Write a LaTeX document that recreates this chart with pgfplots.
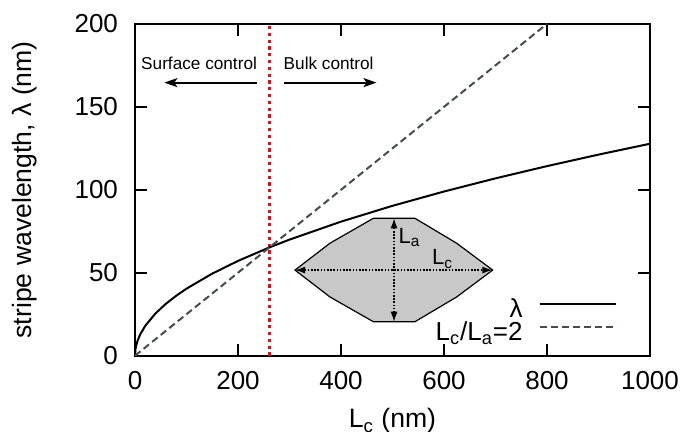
\documentclass[border=0pt]{standalone}
\usepackage{fontspec}
\setmainfont{Liberation Sans}
\usepackage{pgfplots}
\pgfplotsset{compat=1.18}
\usetikzlibrary{arrows.meta}

\definecolor{dotred}{RGB}{210,20,30}
\definecolor{dashgray}{RGB}{70,75,75}
\definecolor{shapegray}{RGB}{200,200,200}

\begin{document}
\begin{tikzpicture}
\begin{axis}[
  scale only axis,
  width=257.5pt, height=165.9pt,
  xmin=0, xmax=1000, ymin=0, ymax=200,
  xtick={0,200,...,1000},
  ytick={0,50,...,200},
  tick align=inside,
  major tick length=6pt,
  axis line style={line width=0.9pt},
  every tick/.style={black, line width=0.9pt},
  /pgf/number format/assume math mode=true,
  /pgf/number format/1000 sep={},
  tick label style={font=\fontsize{13}{15}\selectfont},
  yticklabel style={xshift=-5pt},
  xticklabel style={yshift=-4.5pt},
  xlabel={L\textsubscript{c} (nm)},
  ylabel={stripe wavelength, λ (nm)},
  label style={font=\fontsize{13.3}{15}\selectfont},
  xlabel style={at={(axis description cs:0.5,0)}, anchor=base, yshift=-36pt},
  ylabel style={at={(axis description cs:-0.2136,0.5)}, anchor=center},
  legend cell align=right,
  legend plot pos=right,
  legend image code/.code={\draw[#1] (0pt,0.27em) -- (38pt,0.27em);},
  legend style={draw=none, fill=none, inner sep=0pt, row sep=0.6pt, column sep=8pt,
    nodes={inner sep=0pt},
    at={(axis description cs:0.936,0.173)}, anchor=north east,
    font=\fontsize{13}{15}\selectfont},
]
% separation between surface and bulk control
\addplot[forget plot, dotred, line width=1.1pt, dash pattern=on 1.6pt off 1.8pt]
  coordinates {(261,0) (261,200)};

% inset: particle cross section
\addplot[forget plot, fill=shapegray, draw=black, line width=0.6pt] coordinates {
  (310.7,51.6) (378.6,67.8) (462.7,82.8) (543.7,82.8) (624.6,67.8)
  (694.5,51.6) (624.6,35.4) (543.7,20.5) (462.7,20.5) (378.6,35.4)
  (310.7,51.6)
} -- cycle;

\addplot[black, line width=1pt] coordinates {
  (0,0) (1,4.04) (2,5.71) (5,9.03) (10,12.78) (20,18.07) (40,25.55)
  (60,31.29) (80,36.13) (100,40.4) (150,49.48) (200,57.13) (260,65.14)
  (300,69.97) (400,80.8) (500,90.34) (600,98.96) (700,106.89)
  (800,114.27) (900,121.2) (1000,127.76)
};
\addlegendentry{λ}

\addplot[dashgray, line width=1pt, dash pattern=on 3.5pt off 2pt] coordinates {
  (0,0) (800,200)
};
\addlegendentry{L\textsubscript{c}/L\textsubscript{a}=2}

\draw[line width=0.6pt, dash pattern=on 0.8pt off 0.8pt,
  {Latex[length=5pt,width=3.5pt]}-{Latex[length=5pt,width=3.5pt]}]
  (axis cs:311,51.6) -- (axis cs:694,51.6);
\draw[line width=0.6pt, dash pattern=on 0.8pt off 0.8pt,
  {Latex[length=5pt,width=3.5pt]}-{Latex[length=5pt,width=3.5pt]}]
  (axis cs:503,82.8) -- (axis cs:503,20.5);
\node[anchor=base west, inner sep=0pt, font=\fontsize{11}{13}\selectfont]
  at (axis cs:511,67.5) {L\textsubscript{a}};
\node[anchor=base west, inner sep=0pt, font=\fontsize{11}{13}\selectfont]
  at (axis cs:576,54.7) {L\textsubscript{c}};

% regime labels
\node[anchor=base east, inner sep=0pt, font=\fontsize{8.6}{10}\selectfont]
  at (axis cs:237.5,172.3) {Surface control};
\node[anchor=base west, inner sep=0pt, font=\fontsize{8.6}{10}\selectfont]
  at (axis cs:288,172.3) {Bulk control};
\draw[line width=0.9pt, -{Stealth[length=6.5pt,width=4.5pt,inset=1.5pt]}]
  (axis cs:236,164.6) -- (axis cs:57,164.6);
\draw[line width=0.9pt, -{Stealth[length=6.5pt,width=4.5pt,inset=1.5pt]}]
  (axis cs:290,164.6) -- (axis cs:469,164.6);
\end{axis}
\pgfresetboundingbox
\path[use as bounding box] (-67.5pt,-38.15pt) rectangle (275.5pt,177.85pt);
\end{tikzpicture}
\end{document}
